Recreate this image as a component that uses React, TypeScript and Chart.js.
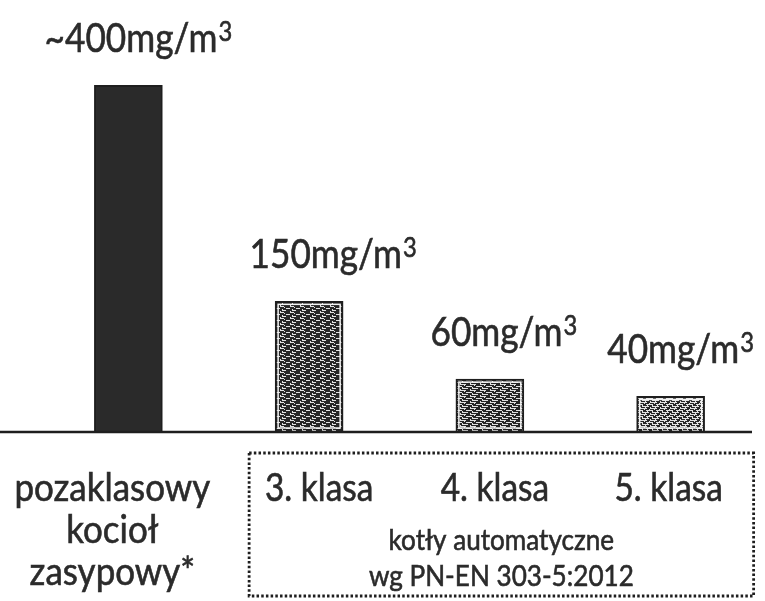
import React, { useEffect, useRef } from "react";
import { Chart, registerables } from "chart.js";

Chart.register(...registerables);

// ---- data ----
const categories: string[][] = [
  ["pozaklasowy", "kocioł", "zasypowy*"],
  ["3. klasa"],
  ["4. klasa"],
  ["5. klasa"],
];
const values: number[] = [400, 150, 60, 40];
const valueLabels: string[] = ["~400mg/m³", "150mg/m³", "60mg/m³", "40mg/m³"];
const groupLabels: string[] = ["kotły automatyczne", "wg PN-EN 303-5:2012"];
const groupFrom = 1;
const groupTo = 3;

// ---- style ----
const FONT = "Lato, 'Open Sans', sans-serif";
const TEXT = "#2b2b2b";
const patternLevels = [0, 4, 6, 7]; // light dash length per bar (0 = solid)
const catShift = [-16, 10, 5, -2];
const valueShift = [10, 24, 14, 10];

function makePattern(level: number): CanvasPattern | string {
  if (level === 0) return "#2a2a2a";
  const w = 10, h = 6;
  const c = document.createElement("canvas");
  c.width = w;
  c.height = h;
  const g = c.getContext("2d")!;
  g.fillStyle = "#262626";
  g.fillRect(0, 0, w, h);
  g.fillStyle = "#e2e2e2";
  for (let r = 0; r < h; r++) {
    if (r % 2 === 0) {
      const off = (r * 3) % w;
      for (let k = 0; k < level; k++) g.fillRect((off + k) % w, r, 1, 1);
    } else {
      const dots = level >= 7 ? 2 : 1;
      for (let k = 0; k < dots; k++) g.fillRect((r * 4 + k * 5) % w, r, 1, 1);
    }
  }
  return g.createPattern(c, "repeat")!;
}

function drawText(ctx: CanvasRenderingContext2D, txt: string, x: number, y: number, size: number, sx: number) {
  ctx.save();
  ctx.translate(x, y);
  ctx.scale(sx, 1);
  ctx.font = `${size}px ${FONT}`;
  ctx.textAlign = "center";
  ctx.textBaseline = "alphabetic";
  ctx.fillText(txt, 0, 0);
  ctx.lineWidth = 0.6;
  ctx.strokeText(txt, 0, 0);
  ctx.restore();
}

function drawValue(ctx: CanvasRenderingContext2D, label: string, cx: number, y: number) {
  const [main, sup] = label.includes("³") ? [label.replace("³", ""), "3"] : [label, ""];
  const sx = 0.88;
  ctx.save();
  ctx.font = `40px ${FONT}`;
  const mw = ctx.measureText(main).width * sx;
  ctx.font = `27px ${FONT}`;
  const sw = ctx.measureText(sup).width * sx;
  const total = mw + sw + 1;
  const left = cx - total / 2;
  ctx.translate(left, y);
  ctx.scale(sx, 1);
  ctx.textAlign = "left";
  ctx.textBaseline = "alphabetic";
  ctx.lineWidth = 0.6;
  ctx.font = `40px ${FONT}`;
  ctx.fillText(main, 0, 0);
  ctx.strokeText(main, 0, 0);
  ctx.font = `27px ${FONT}`;
  const sxPos = (mw + 1) / sx;
  ctx.fillText(sup, sxPos, -11);
  ctx.strokeText(sup, sxPos, -11);
  ctx.restore();
}

const decorPlugin = {
  id: "decor",
  afterDatasetsDraw(chart: any) {
    const { ctx } = chart;
    const xs = chart.scales.x;
    const ys = chart.scales.y;
    const base = ys.getPixelForValue(0);
    const meta = chart.getDatasetMeta(0);
    ctx.save();

    // inner white frame of textured bars
    meta.data.forEach((el: any, i: number) => {
      if (i === 0) return;
      const l = el.x - el.width / 2;
      const t = el.y;
      ctx.strokeStyle = "#f4f4f4";
      ctx.lineWidth = 1.5;
      ctx.strokeRect(l + 3, t + 3, el.width - 6, el.base - t - 6);
    });

    // baseline
    ctx.strokeStyle = "#1e1e1e";
    ctx.lineWidth = 2.5;
    ctx.beginPath();
    ctx.moveTo(0, base + 1);
    ctx.lineTo(752, base + 1);
    ctx.stroke();

    ctx.fillStyle = TEXT;
    ctx.strokeStyle = TEXT;

    // value labels above bars
    meta.data.forEach((el: any, i: number) => {
      drawValue(ctx, valueLabels[i], el.x + valueShift[i], el.y - 33);
    });

    // category labels
    categories.forEach((lines, i) => {
      const cx = xs.getPixelForValue(i) + catShift[i];
      lines.forEach((ln, j) => {
        drawText(ctx, ln, cx, base + 70 + j * 42, 38, i === 0 ? 0.92 : 0.88);
      });
    });

    // dotted group box
    const left = xs.getPixelForValue(groupFrom) - 60;
    const right = xs.getPixelForValue(groupTo) + 83;
    const top = base + 22;
    const bottom = base + 165;
    ctx.strokeStyle = "#1e1e1e";
    ctx.lineWidth = 2.8;
    ctx.setLineDash([2.5, 2.2]);
    ctx.strokeRect(left, top, right - left, bottom - top);
    ctx.setLineDash([]);

    ctx.strokeStyle = TEXT;
    const gx = (left + right) / 2;
    groupLabels.forEach((ln, j) => {
      drawText(ctx, ln, gx, base + 119 + j * 36, 29, 0.9);
    });

    ctx.restore();
  },
};

export default function App() {
  const ref = useRef<HTMLCanvasElement | null>(null);

  useEffect(() => {
    if (!ref.current) return;
    const chart = new Chart(ref.current, {
      type: "bar",
      data: {
        labels: categories.map((c) => c.join(" ")),
        datasets: [
          {
            data: values,
            backgroundColor: patternLevels.map(makePattern) as any,
            borderColor: "#1e1e1e",
            borderWidth: 2,
            barThickness: 68,
          },
        ],
      },
      options: {
        responsive: false,
        animation: false,
        layout: { padding: { left: 38, right: 4, top: 42, bottom: 170 } },
        plugins: { legend: { display: false }, tooltip: { enabled: false } },
        scales: {
          x: { display: false, offset: true },
          y: { display: false, min: 0, max: 450 },
        },
      },
      plugins: [decorPlugin],
    });
    return () => chart.destroy();
  }, []);

  return (
    <div style={{ position: "fixed", left: 0, top: 0, width: 765, height: 601, background: "#fff" }}>
      <canvas ref={ref} width={765} height={601} />
    </div>
  );
}
